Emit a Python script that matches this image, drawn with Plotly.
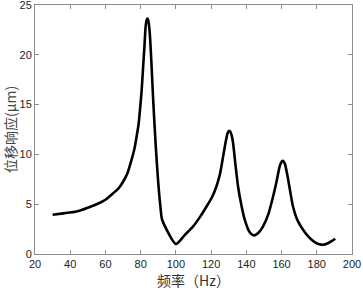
import plotly.graph_objects as go

freq = [30.0, 36, 43.6, 50, 56.9, 60, 64.4, 67.5, 70.1, 72.5, 74.8, 76.5, 77.7, 78.8, 79.6, 80.6, 81.4, 82.2, 82.8, 83.4, 83.9, 84.5, 85.2, 86.1, 87.1, 88.5, 90.0, 91.2, 92.2, 100.0,
        105, 109.8, 114, 117.4, 120.5, 123.0, 125.0, 126.8, 128.2, 129.3, 130.0, 130.6, 131.5, 132.5, 133.8, 135.3, 137.2, 139.1, 141.5, 143.2, 144.2, 145.5, 147.5, 149.5, 152.5, 155.2, 157.2,
        158.9, 160.0, 160.8, 161.8, 163.1, 164.7, 166.5, 169.0, 172.2, 175.5, 178.8, 181.5, 183.5, 186.0, 188.5, 190.5]
disp = [3.94, 4.08, 4.27, 4.65, 5.15, 5.45, 6.1, 6.6, 7.28, 8.1, 9.45, 10.6, 11.8, 13.0, 14.45, 16.5, 18.8, 21.0, 22.8, 23.5, 23.65, 23.3, 22.1, 19.2, 15.5, 11.0, 7.1, 4.8, 3.44, 1.0,
        1.9, 2.77, 3.8, 4.77, 5.7, 6.78, 8.0, 9.78, 11.2, 12.1, 12.35, 12.35, 12.0, 11.1, 9.0, 6.78, 4.9, 3.44, 2.3, 1.95, 1.87, 1.95, 2.25, 2.77, 4.0, 5.77, 7.3,
        8.78, 9.25, 9.35, 9.1, 8.1, 6.5, 4.77, 3.4, 2.44, 1.7, 1.2, 0.98, 0.93, 1.05, 1.3, 1.53]

xticks = [20, 40, 60, 80, 100, 120, 140, 160, 180, 200]
yticks = [0, 5, 10, 15, 20, 25]

fig = go.Figure()
fig.add_trace(go.Scatter(x=freq, y=disp, mode="lines", hoverinfo="skip",
                         line=dict(color="black", width=2.6, shape="spline", smoothing=0.6)))

axis_common = dict(showline=True, mirror="ticks", linecolor="#8c8c8c", linewidth=1,
                   ticks="inside", ticklen=4, tickcolor="#8c8c8c", showgrid=False, zeroline=False,
                   automargin=False, ticklabeloverflow="allow",
                   tickfont=dict(family="Liberation Sans, Arial", size=11, color="#222"))

fig.update_layout(
    width=363, height=290,
    margin=dict(l=35, r=11, t=5, b=36),
    paper_bgcolor="white", plot_bgcolor="white",
    showlegend=False,
    xaxis=dict(range=[20, 200], tickvals=xticks, title=dict(text="频率（Hz）", standoff=0,
               font=dict(family="Noto Sans CJK SC", size=14, color="#333")), **axis_common),
    yaxis=dict(range=[0, 25], tickvals=yticks, title=dict(text="位移响应(μm)", standoff=0,
               font=dict(family="Noto Sans CJK SC", size=14, color="#444")), **axis_common),
)

fig.write_html("out.html", config={"displayModeBar": False, "staticPlot": True},
               post_script="document.body.style.margin='0';document.body.style.overflow='hidden';")
